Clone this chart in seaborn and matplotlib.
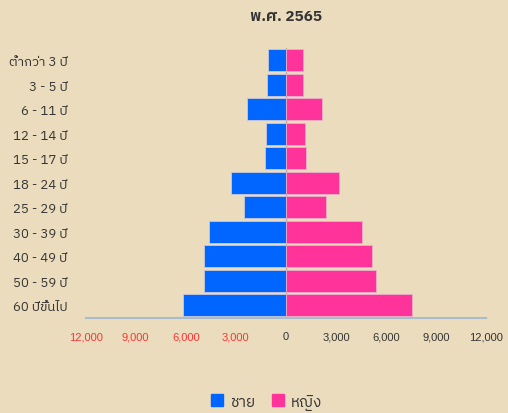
import numpy as np
import pandas as pd
import matplotlib
matplotlib.use('Agg')
import matplotlib.pyplot as plt
import seaborn as sns
from matplotlib import font_manager
from matplotlib.ft2font import FT2Font
from matplotlib.lines import Line2D
from matplotlib.ticker import FixedLocator

# data
age_groups = ['ต่ำกว่า 3 ปี', '3 - 5 ปี', '6 - 11 ปี', '12 - 14 ปี', '15 - 17 ปี',
              '18 - 24 ปี', '25 - 29 ปี', '30 - 39 ปี', '40 - 49 ปี', '50 - 59 ปี',
              '60 ปีขึ้นไป']
male = [1070, 1110, 2310, 1190, 1270, 3270, 2490, 4590, 4910, 4930, 6170]
female = [1000, 1040, 2180, 1120, 1200, 3160, 2420, 4580, 5180, 5400, 7580]
x_ticks = [-12000, -9000, -6000, -3000, 0, 3000, 6000, 9000, 12000]

bg = '#ebdcbd'
blue = '#0066ff'
pink = '#ff3399'

# find an installed font that has Thai glyphs
thai_fonts = []
for f in font_manager.fontManager.ttflist:
    try:
        if 0x0E0A in FT2Font(f.fname).get_charmap():
            thai_fonts.append(f.name)
    except Exception:
        pass
thai_fonts = sorted(set(thai_fonts), key=lambda n: ('Sans' not in n, 'Mono' in n, n))

sns.set_style('white')
plt.rcParams['font.family'] = thai_fonts[:1] + ['DejaVu Sans']

df = pd.DataFrame({'age': age_groups, 'male': -np.array(male), 'female': female})

fig = plt.figure(figsize=(5.08, 4.14), dpi=100, facecolor=bg)
ax = fig.add_axes([85.7 / 508, 1 - 318.5 / 414, 400.3 / 508, 269.5 / 414])
ax.set_facecolor(bg)

ax.axvline(0, color='#b0b0b0', lw=1, zorder=0)
sns.barplot(data=df, x='male', y='age', color=blue, width=0.9, saturation=1,
            edgecolor='#c8c8d8', linewidth=0.6, ax=ax)
sns.barplot(data=df, x='female', y='age', color=pink, width=0.9, saturation=1,
            edgecolor='#e8b0c8', linewidth=0.6, ax=ax)

ax.set_xlim(-12000, 12000)
ax.set_ylim(len(age_groups) - 0.5, -0.5)
ax.xaxis.set_major_locator(FixedLocator(x_ticks))
ax.set_xticklabels([f'{abs(v):,}' for v in x_ticks], fontsize=8,
                   family=['Liberation Sans', 'DejaVu Sans'])
for lab, v in zip(ax.get_xticklabels(), x_ticks):
    lab.set_color('#ff3333' if v < 0 else '#333333')
ax.tick_params(axis='x', length=0, pad=10)
ax.tick_params(axis='y', length=0, pad=13, labelsize=9.5, labelcolor='#333333')
ax.set_xlabel('')
ax.set_ylabel('')

for s in ['top', 'left', 'right']:
    ax.spines[s].set_visible(False)
ax.spines['bottom'].set_color('#a9bccb')
ax.spines['bottom'].set_linewidth(1.5)

ax.set_title('พ.ศ. 2565', fontsize=11, fontweight='bold', color='#333333', pad=20)

handles = [Line2D([], [], marker='s', ls='', color=blue, markersize=8),
           Line2D([], [], marker='s', ls='', color=pink, markersize=8)]
fig.legend(handles, ['ชาย', 'หญิง'], loc='lower center', bbox_to_anchor=(0.524, -0.025),
           ncol=2, frameon=False, fontsize=11, handlelength=0.9, handletextpad=0.4,
           columnspacing=1.0, labelcolor='#333333')

fig.savefig('out.png', dpi=100, facecolor=bg)
